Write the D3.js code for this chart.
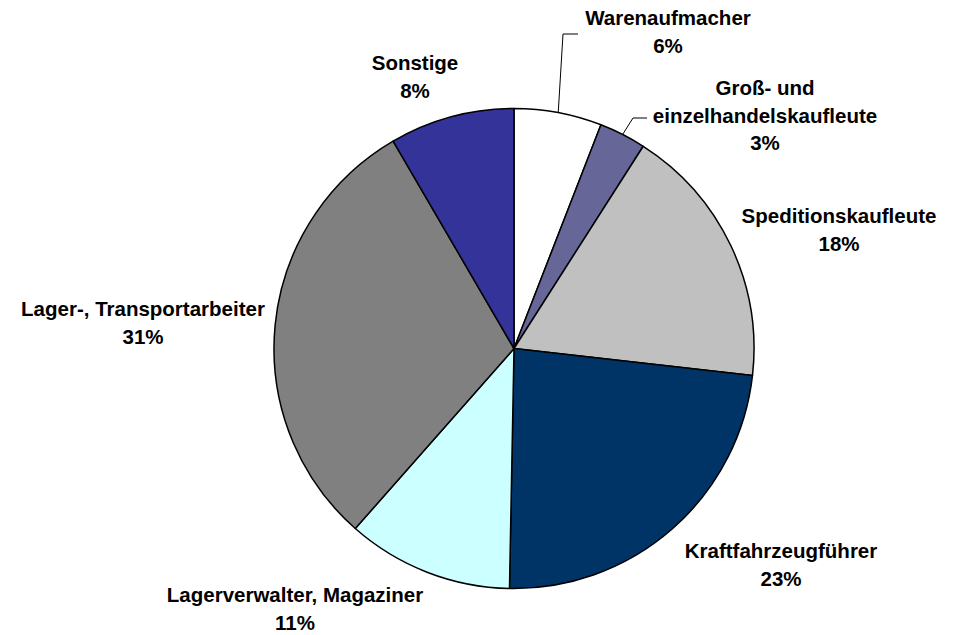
<!DOCTYPE html>
<html>
<head>
<meta charset="utf-8">
<script src="https://cdn.jsdelivr.net/npm/d3@7"></script>
<style>
  html, body { margin: 0; padding: 0; background: #fff; }
  svg { display: block; }
  text { font-family: "Liberation Sans", Arial, sans-serif; font-weight: bold; font-size: 20.5px; fill: #000; }
</style>
</head>
<body>
<svg id="chart" width="959" height="635"></svg>
<script>
// Data
const categories = ["Warenaufmacher", "Groß- und einzelhandelskaufleute", "Speditionskaufleute",
  "Kraftfahrzeugführer", "Lagerverwalter, Magaziner", "Lager-, Transportarbeiter", "Sonstige"];
const values = [5.9, 3.15, 17.75, 23.5, 11.2, 30.1, 8.4];
const percentLabels = ["6%", "3%", "18%", "23%", "11%", "31%", "8%"];
const labelLines = [["Warenaufmacher"], ["Groß- und", "einzelhandelskaufleute"], ["Speditionskaufleute"],
  ["Kraftfahrzeugführer"], ["Lagerverwalter, Magaziner"], ["Lager-, Transportarbeiter"], ["Sonstige"]];
const colors = ["#FFFFFF", "#666699", "#C0C0C0", "#003366", "#CCFFFF", "#808080", "#333399"];

// Layout
const cx = 514, cy = 348.5, R = 240;
const lineH = 27.5;
// label anchor: x center, y baseline of first line
const labelPos = [
  {x: 668, y: 25}, {x: 765, y: 95}, {x: 839, y: 223}, {x: 781, y: 558},
  {x: 295, y: 602}, {x: 143, y: 316}, {x: 415, y: 70}
];
// leader lines (bend point and end point) for small slices
const leaders = {0: [[563, 34], [578, 34]], 1: [[633, 118], [647, 118]]};

const svg = d3.select("#chart");
const g = svg.append("g").attr("transform", `translate(${cx},${cy})`);

const pie = d3.pie().sort(null).value(d => d)(values);
const arc = d3.arc().innerRadius(0).outerRadius(R);

g.selectAll("path.slice").data(pie).join("path")
  .attr("class", "slice")
  .attr("d", arc)
  .attr("fill", (d, i) => colors[i])
  .attr("stroke", "#000")
  .attr("stroke-width", 1.5)
  .attr("stroke-linejoin", "round");

// leader lines
Object.keys(leaders).forEach(k => {
  const d = pie[+k];
  const a = (d.startAngle + d.endAngle) / 2;
  const sx = cx + R * Math.sin(a), sy = cy - R * Math.cos(a);
  const pts = [[sx, sy], ...leaders[k]];
  svg.append("path")
    .attr("d", d3.line()(pts))
    .attr("fill", "none")
    .attr("stroke", "#000")
    .attr("stroke-width", 1);
});

// labels
categories.forEach((c, i) => {
  const lines = labelLines[i].concat([percentLabels[i]]);
  const t = svg.append("text")
    .attr("text-anchor", "middle")
    .attr("x", labelPos[i].x)
    .attr("y", labelPos[i].y);
  lines.forEach((ln, j) => {
    t.append("tspan").attr("x", labelPos[i].x).attr("dy", j === 0 ? 0 : lineH).text(ln);
  });
});
</script>
</body>
</html>
